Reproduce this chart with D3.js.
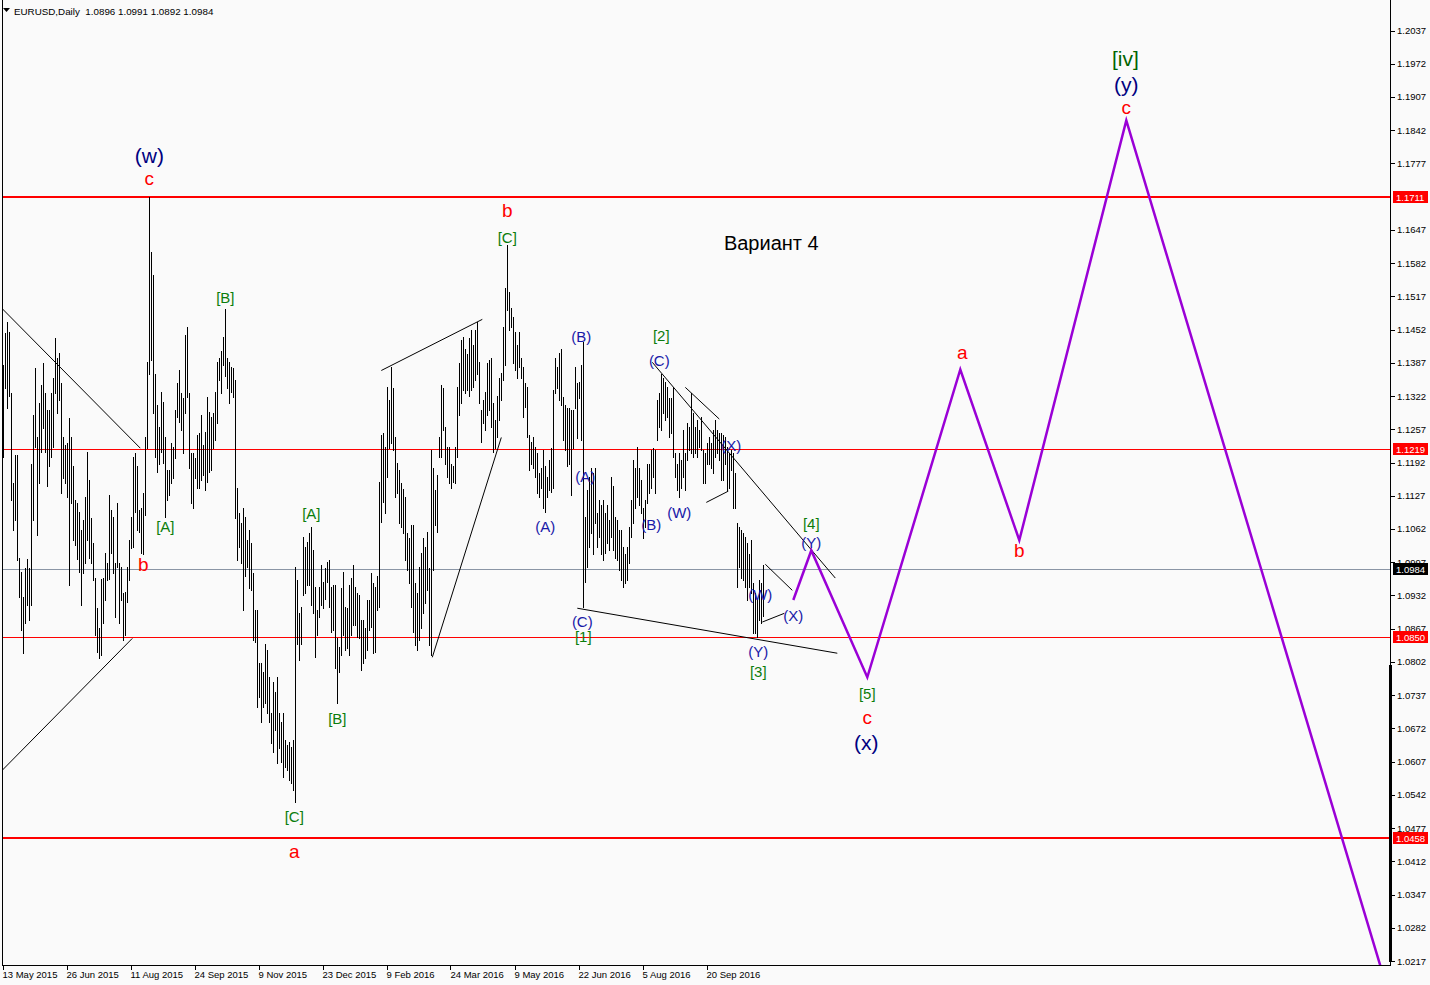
<!DOCTYPE html>
<html><head><meta charset="utf-8">
<script src="https://cdn.jsdelivr.net/npm/d3@7"></script>
<style>body{margin:0;background:#fafafa} svg{display:block} text{font-family:"Liberation Sans",Arial,sans-serif}</style>
</head><body><svg id="c" width="1430" height="985"></svg>
<script>
// ---- data (EURUSD daily bars) ----
const symbol = "EURUSD,Daily";
const lastOHLC = [1.0896, 1.0991, 1.0892, 1.0984];
const highs = [
1.1382,1.1445,1.1466,1.1447,1.1327,1.1151,1.1206,1.1206,1.1006,1.0977,
1.0928,1.0985,1.1004,1.0985,1.1190,1.1284,1.1376,1.1241,1.1308,1.1343,
1.1386,1.1327,1.1294,1.1294,1.1327,1.1357,1.1435,1.1397,1.1407,1.1347,
1.1241,1.1226,1.1230,1.1279,1.1241,1.1186,1.1118,1.1112,1.1095,1.1060,
1.1079,1.1124,1.1212,1.1157,1.1083,1.1034,1.0967,1.0907,1.0868,1.0965,
1.0967,1.1016,1.0995,1.1128,1.1099,1.1085,1.0995,1.1112,1.0995,1.0987,
1.0936,1.0938,1.0987,1.1040,1.1085,1.1202,1.1210,1.1186,1.1099,1.1103,
1.1132,1.1241,1.1388,1.1712,1.1603,1.1558,1.1366,1.1304,1.1261,1.1329,
1.1310,1.1241,1.1177,1.1177,1.1230,1.1222,1.1294,1.1347,1.1372,1.1327,
1.1318,1.1441,1.1457,1.1327,1.1210,1.1210,1.1200,1.1245,1.1249,1.1284,
1.1226,1.1251,1.1320,1.1290,1.1281,1.1288,1.1329,1.1388,1.1397,1.1411,
1.1437,1.1493,1.1396,1.1388,1.1378,1.1376,1.1353,1.1143,1.1093,1.1073,
1.1103,1.1085,1.1040,1.1060,1.1034,1.0975,1.0903,1.0903,1.0799,1.0799,
1.0782,1.0838,1.0825,1.0772,1.0702,1.0762,1.0743,1.0772,1.0702,1.0684,
1.0702,1.0649,1.0639,1.0645,1.0635,1.0649,1.0987,1.0962,1.0897,1.0909,
1.1046,1.1026,1.1036,1.1054,1.1065,1.1020,1.0948,1.0903,1.0948,1.0991,
1.0958,1.0985,1.0997,1.1001,1.0948,1.0952,1.0952,1.0848,1.0831,1.0946,
1.0977,1.0909,1.0907,1.0952,1.0967,1.0991,1.0948,1.0936,1.0932,1.0884,
1.0884,1.0868,1.0923,1.0923,1.0975,1.0956,1.0948,1.0971,1.1153,1.1245,
1.1249,1.1222,1.1339,1.1314,1.1378,1.1337,1.1241,1.1192,1.1177,1.1151,
1.1141,1.1124,1.1054,1.1044,1.1069,1.1069,1.0956,1.0936,1.0987,1.1016,
1.1044,1.1026,1.1056,1.0985,1.1216,1.1181,1.1138,1.1167,1.1241,1.1343,
1.1337,1.1261,1.1222,1.1222,1.1190,1.1186,1.1222,1.1339,1.1386,1.1431,
1.1437,1.1415,1.1405,1.1435,1.1451,1.1421,1.1451,1.1466,1.1388,1.1294,
1.1314,1.1329,1.1386,1.1392,1.1396,1.1308,1.1275,1.1323,1.1358,1.1368,
1.1457,1.1534,1.1617,1.1525,1.1494,1.1476,1.1447,1.1421,1.1447,1.1396,
1.1378,1.1347,1.1339,1.1245,1.1232,1.1241,1.1222,1.1210,1.1171,1.1182,
1.1216,1.1186,1.1163,1.1196,1.1220,1.1333,1.1396,1.1378,1.1407,1.1415,
1.1320,1.1304,1.1298,1.1298,1.1294,1.1294,1.1378,1.1347,1.1349,1.1382,
1.1427,1.1085,1.1138,1.1163,1.1182,1.1171,1.1182,1.1093,1.1118,1.1108,
1.1118,1.1093,1.1108,1.1079,1.1163,1.1147,1.1085,1.1079,1.1060,1.1060,
1.1026,1.1014,1.1026,1.1065,1.1118,1.1196,1.1182,1.1222,1.1182,1.1157,
1.1104,1.1118,1.1190,1.1190,1.1216,1.1220,1.1216,1.1314,1.1327,1.1366,
1.1358,1.1349,1.1339,1.1318,1.1318,1.1339,1.1210,1.1190,1.1210,1.1196,
1.1255,1.1210,1.1269,1.1261,1.1327,1.1288,1.1261,1.1275,1.1255,1.1281,
1.1216,1.1210,1.1230,1.1241,1.1230,1.1255,1.1275,1.1255,1.1249,1.1249,
1.1245,1.1241,1.1222,1.1210,1.1216,1.1210,1.1171,1.1073,1.1065,1.1060,
1.1054,1.1046,1.1034,1.1014,1.1040,1.0956,1.0936,1.0923,1.0962,1.0956,
1.0991];
const lows = [
1.1202,1.1337,1.1298,1.1323,1.1118,1.1060,1.1079,1.1001,1.0928,1.0864,
1.0819,1.0878,1.0913,1.0884,1.0913,1.1079,1.1222,1.1050,1.1151,1.1212,
1.1259,1.1212,1.1147,1.1186,1.1202,1.1222,1.1327,1.1288,1.1314,1.1132,
1.1161,1.1151,1.1124,1.0952,1.1112,1.1040,1.1030,1.1004,1.0977,1.0913,
1.0975,1.0995,1.1040,1.1006,1.0995,1.0962,1.0854,1.0821,1.0809,1.0815,
1.0878,1.0923,1.0962,1.0965,1.1016,1.0975,1.0890,1.0987,1.0878,1.0923,
1.0844,1.0854,1.0919,1.0962,1.1024,1.1026,1.1095,1.1060,1.1056,1.1016,
1.1014,1.1089,1.1220,1.1366,1.1392,1.1288,1.1202,1.1173,1.1190,1.1212,
1.1192,1.1085,1.1118,1.1128,1.1151,1.1161,1.1200,1.1281,1.1271,1.1255,
1.1210,1.1288,1.1320,1.1181,1.1112,1.1104,1.1161,1.1143,1.1143,1.1157,
1.1167,1.1138,1.1153,1.1173,1.1177,1.1220,1.1236,1.1269,1.1353,1.1327,
1.1382,1.1362,1.1337,1.1308,1.1329,1.1320,1.1083,1.1001,1.1026,1.0995,
1.0903,1.0971,1.0987,1.0946,1.0942,1.0844,1.0840,1.0713,1.0733,1.0684,
1.0713,1.0721,1.0702,1.0684,1.0643,1.0625,1.0669,1.0604,1.0633,1.0606,
1.0576,1.0596,1.0590,1.0571,1.0565,1.0551,1.0528,1.0838,1.0805,1.0838,
1.0932,1.0936,1.0952,1.0952,1.0913,1.0897,1.0811,1.0854,1.0890,1.0913,
1.0907,1.0926,1.0958,1.0909,1.0860,1.0864,1.0790,1.0721,1.0782,1.0815,
1.0854,1.0825,1.0829,1.0815,1.0854,1.0874,1.0874,1.0850,1.0848,1.0786,
1.0799,1.0809,1.0825,1.0864,1.0870,1.0819,1.0821,1.0903,1.0909,1.1075,
1.1114,1.1093,1.1163,1.1220,1.1230,1.1216,1.1124,1.1132,1.1073,1.1065,
1.1054,1.1001,1.0981,1.0956,1.0909,1.0860,1.0835,1.0825,1.0844,1.0868,
1.0897,1.0917,1.0942,1.0835,1.0815,1.0981,1.1069,1.1056,1.1202,1.1202,
1.1255,1.1190,1.1163,1.1151,1.1143,1.1153,1.1151,1.1202,1.1284,1.1308,
1.1333,1.1327,1.1333,1.1323,1.1333,1.1339,1.1353,1.1366,1.1308,1.1232,
1.1269,1.1255,1.1284,1.1294,1.1261,1.1212,1.1220,1.1241,1.1275,1.1314,
1.1353,1.1382,1.1490,1.1451,1.1457,1.1386,1.1372,1.1358,1.1378,1.1358,
1.1281,1.1300,1.1241,1.1177,1.1190,1.1181,1.1163,1.1132,1.1124,1.1143,
1.1104,1.1095,1.1124,1.1138,1.1134,1.1143,1.1327,1.1337,1.1314,1.1304,
1.1236,1.1216,1.1186,1.1190,1.1128,1.1220,1.1298,1.1240,1.1318,1.1236,
1.0909,1.0958,1.0987,1.1026,1.1054,1.1014,1.1073,1.1026,1.1046,1.1014,
1.1001,1.1016,1.1034,1.1020,1.1046,1.1020,1.1006,1.1001,1.0981,1.0962,
1.0948,1.0956,1.0962,1.0995,1.1046,1.1073,1.1104,1.1124,1.1108,1.1093,
1.1044,1.1065,1.1112,1.1132,1.1143,1.1163,1.1132,1.1236,1.1261,1.1255,
1.1288,1.1275,1.1281,1.1241,1.1249,1.1202,1.1163,1.1138,1.1124,1.1143,
1.1163,1.1138,1.1196,1.1216,1.1210,1.1202,1.1210,1.1202,1.1222,1.1216,
1.1151,1.1151,1.1190,1.1190,1.1182,1.1171,1.1202,1.1210,1.1196,1.1157,
1.1157,1.1190,1.1138,1.1143,1.1177,1.1104,1.1104,1.0948,1.0987,1.0967,
1.0962,1.0948,1.0923,1.0948,1.0936,1.0858,1.0858,1.0850,1.0884,1.0878,
1.0892];
const dateLabels = ["13 May 2015","26 Jun 2015","11 Aug 2015","24 Sep 2015","9 Nov 2015","23 Dec 2015","9 Feb 2016","24 Mar 2016","9 May 2016","22 Jun 2016","5 Aug 2016","20 Sep 2016"];
const dateBars = [0,32,64,96,128,160,192,224,256,288,320,352];
const priceTicks = [1.2037,1.1972,1.1907,1.1842,1.1777,1.1647,1.1582,1.1517,1.1452,1.1387,1.1322,1.1257,1.1192,1.1127,1.1062,1.0997,1.0932,1.0867,1.0802,1.0737,1.0672,1.0607,1.0542,1.0477,1.0412,1.0347,1.0282,1.0217];
const levelPrices = [1.1711, 1.1219, 1.0984, 1.0850, 1.0458];
const levelKinds  = ["redThick","red","bid","red","redThick"];
// trend lines: [bar1, price1, bar2, price2]
const trendLines = [
  [-0.65,1.1493, 68.4,1.1220],
  [-0.65,1.0590, 64.4,1.0848],
  [188.9,1.1372, 239.4,1.1472],
  [214.4,1.0811, 248.9,1.1241],
  [286.9,1.0907, 416.9,1.0819],
  [324.4,1.1388, 415.9,1.0966],
  [340.9,1.1339, 357.9,1.1277],
  [351.4,1.1114, 362.4,1.1136],
  [380.9,1.0993, 394.4,1.0942],
  [379.4,1.0880, 390.4,1.0897]
];
// projected wave path (bar index, price)
const projBars   = [394.9, 403.9, 431.9, 478.4, 507.9, 561.4, 688.4];
const projPrices = [1.0923, 1.1020, 1.0772, 1.1374, 1.1040, 1.1861, 1.0208];
// wave labels: text, bar index, price, kind
const labels = [
 ["(w)",72.9,1.1793,"bigNavy"],["c",72.9,1.1748,"red"],
 ["b",251.9,1.1685,"red"],["[C]",251.9,1.1632,"green"],
 ["[B]",110.9,1.1515,"green"],["[A]",80.9,1.1066,"green"],["b",69.9,1.0993,"red"],
 ["[A]",153.9,1.1093,"green"],["[B]",166.9,1.0692,"green"],["[C]",145.4,1.0499,"green"],["a",145.4,1.0432,"red"],
 ["Вариант 4",383.9,1.1621,"title"],
 ["(B)",288.9,1.1439,"navy"],["[2]",328.9,1.1441,"green"],["(C)",327.9,1.1392,"navy"],["(X)",363.9,1.1226,"navy"],
 ["(A)",290.9,1.1165,"navy"],["(A)",270.9,1.1066,"navy"],["(B)",323.9,1.1071,"navy"],["(W)",337.9,1.1095,"navy"],
 ["[4]",403.9,1.1073,"green"],["(Y)",403.9,1.1036,"navy"],["(W)",378.4,1.0934,"navy"],["(X)",394.9,1.0893,"navy"],
 ["(C)",289.4,1.0882,"navy"],["[1]",289.9,1.0852,"green"],["(Y)",377.4,1.0823,"navy"],["[3]",377.4,1.0784,"green"],
 ["[5]",431.9,1.0741,"green"],["c",431.9,1.0694,"red"],["(x)",431.4,1.0645,"bigNavy"],
 ["a",479.4,1.1407,"red"],["b",507.9,1.1019,"red"],
 ["[iv]",560.9,1.1982,"bigGreen"],["(y)",561.4,1.1931,"bigNavy"],["c",561.4,1.1887,"red"]
];

// ---- drawing ----
const W = 1430, H = 985, L = 2, R = 1390, T = 0, B = 965;
const svg = d3.select("#c");
svg.append("rect").attr("width",W).attr("height",H).attr("fill","#fafafa");
const x = d3.scaleLinear().domain([0, 380]).range([3.5, 763.5]);
const y = d3.scaleLinear().domain([1.0217, 1.2037]).range([961, 30.5]);

svg.append("clipPath").attr("id","plot").append("rect").attr("x",L).attr("y",T).attr("width",R-L).attr("height",B-T);
const g = svg.append("g").attr("clip-path","url(#plot)");

// levels
const lvStyle = {redThick:{c:"#ff0000",w:2}, red:{c:"#ff0000",w:1}, bid:{c:"#8a95a5",w:1}};
levelPrices.forEach((p,i)=>{
  const s = lvStyle[levelKinds[i]];
  const yy = Math.round(y(p)) + (s.w%2 ? 0.5 : 0);
  g.append("line").attr("x1",L).attr("x2",R).attr("y1",yy).attr("y2",yy)
   .attr("stroke",s.c).attr("stroke-width",s.w).attr("shape-rendering","crispEdges");
});

// bars
g.append("g").selectAll("line").data(highs.map((h,i)=>({i,h,l:lows[i]}))).join("line")
  .attr("x1",d=>Math.round(x(d.i)-0.5)+0.5).attr("x2",d=>Math.round(x(d.i)-0.5)+0.5)
  .attr("y1",d=>Math.round(y(d.h))).attr("y2",d=>Math.round(y(d.l))+1)
  .attr("stroke","#000").attr("stroke-width",1).attr("shape-rendering","crispEdges");

// trend lines
g.append("g").selectAll("line").data(trendLines).join("line")
  .attr("x1",d=>x(d[0])).attr("y1",d=>y(d[1])).attr("x2",d=>x(d[2])).attr("y2",d=>y(d[3]))
  .attr("stroke","#000").attr("stroke-width",1);

// projection
const proj = projBars.map((b,i)=>[b, projPrices[i]]);
g.append("path").attr("d", d3.line().x(d=>x(d[0])).y(d=>y(d[1]))(proj))
  .attr("fill","none").attr("stroke","#9a00d6").attr("stroke-width",2.5).attr("stroke-linejoin","miter");

// labels
const lbStyle = {
  green:{c:"#0b7d0b",s:15}, navy:{c:"#1818a8",s:15},
  red:{c:"#ff0000",s:19}, bigNavy:{c:"#000080",s:21},
  bigGreen:{c:"#006400",s:21}, title:{c:"#000",s:20}
};
svg.append("g").selectAll("text").data(labels).join("text")
  .attr("x",d=>x(d[1])).attr("y",d=>y(d[2]))
  .attr("text-anchor","middle").attr("dominant-baseline","central")
  .attr("fill",d=>lbStyle[d[3]].c).attr("font-size",d=>lbStyle[d[3]].s)
  .text(d=>d[0]);

// axes frame
svg.append("line").attr("x1",L+0.5).attr("x2",L+0.5).attr("y1",0).attr("y2",B).attr("stroke","#000");
svg.append("line").attr("x1",L).attr("x2",R+1).attr("y1",B+0.5).attr("y2",B+0.5).attr("stroke","#000");
svg.append("line").attr("x1",R+0.5).attr("x2",R+0.5).attr("y1",0).attr("y2",B+1).attr("stroke","#000");
svg.append("rect").attr("x",R-1).attr("y",665).attr("width",3).attr("height",B-665-3).attr("fill","#000");

// right axis ticks
const ra = svg.append("g");
ra.selectAll("line").data(priceTicks).join("line")
  .attr("x1",R+1).attr("x2",R+5).attr("y1",d=>Math.round(y(d))+0.5).attr("y2",d=>Math.round(y(d))+0.5)
  .attr("stroke","#000");
ra.selectAll("text").data(priceTicks).join("text")
  .attr("x",R+7).attr("y",d=>y(d)).attr("dominant-baseline","central")
  .attr("font-size",9.5).attr("fill","#000").text(d=>d.toFixed(4));

// level boxes
levelPrices.forEach((p,i)=>{
  const bg = levelKinds[i]==="bid" ? "#000" : "#ff0000";
  const yy = Math.round(y(p));
  svg.append("rect").attr("x",R+3).attr("y",yy-6).attr("width",35).attr("height",12).attr("fill",bg);
  svg.append("text").attr("x",R+6).attr("y",yy).attr("dominant-baseline","central")
    .attr("font-size",9.5).attr("fill","#fff").text(p.toFixed(4));
});

// date axis
const da = svg.append("g");
da.selectAll("line").data(dateBars).join("line")
  .attr("x1",d=>Math.round(x(d))-0.5).attr("x2",d=>Math.round(x(d))-0.5).attr("y1",B).attr("y2",B+5)
  .attr("stroke","#000");
da.selectAll("text").data(dateBars).join("text")
  .attr("x",d=>x(d)-1).attr("y",B+9).attr("dominant-baseline","central")
  .attr("font-size",9.5).attr("fill","#000").text((d,i)=>dateLabels[i]);

// header
svg.append("path").attr("d","M3,8 L10,8 L6.5,12 Z").attr("fill","#000");
svg.append("text").attr("x",14).attr("y",11).attr("dominant-baseline","central")
  .attr("font-size",9.8).attr("fill","#000").attr("xml:space","preserve")
  .text(symbol + "  " + lastOHLC.map(v=>v.toFixed(4)).join(" "));
</script>
</body></html>
